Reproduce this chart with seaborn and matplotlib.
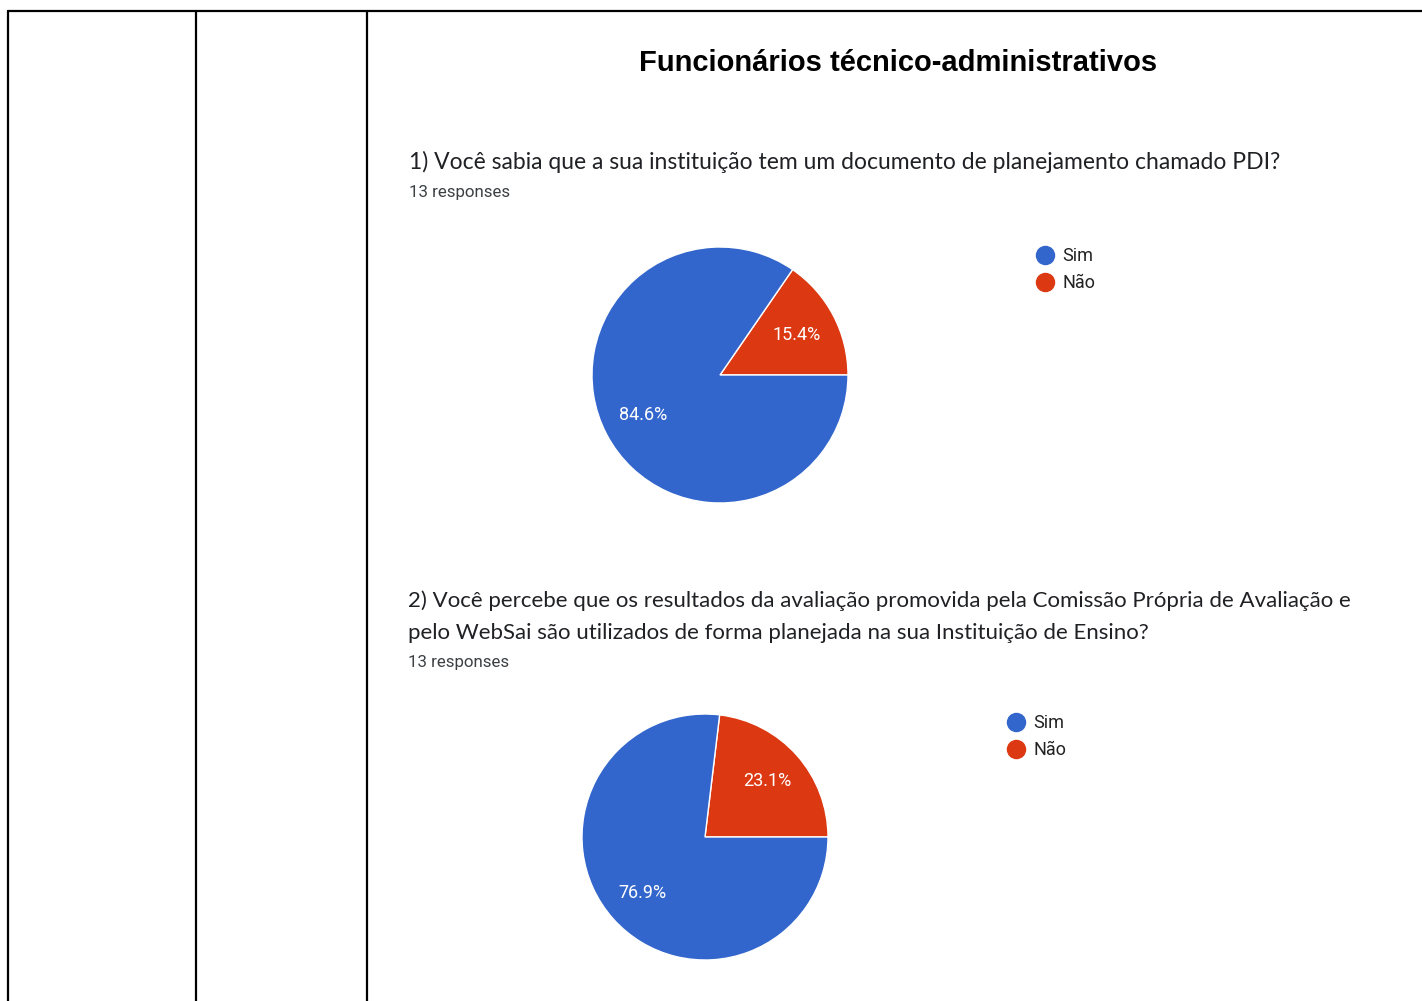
import matplotlib
matplotlib.use("Agg")
import matplotlib.pyplot as plt
from matplotlib.lines import Line2D
import seaborn as sns

# ---- data ----
title = "Funcionários técnico-administrativos"
categories = ["Sim", "Não"]
q1_text = "1) Você sabia que a sua instituição tem um documento de planejamento chamado PDI?"
q1_values = [84.6, 15.4]
q2_text = ("2) Você percebe que os resultados da avaliação promovida pela Comissão Própria de Avaliação e\n"
           "pelo WebSai são utilizados de forma planejada na sua Instituição de Ensino?")
q2_values = [76.9, 23.1]
responses = ["13 responses", "13 responses"]

colors = {"Sim": "#3366CC", "Não": "#DC3912"}

sns.set_theme(style="white")
plt.rcParams['font.family'] = ['Roboto', 'DejaVu Sans']

W, H = 1422, 1001
fig = plt.figure(figsize=(W / 100, H / 100), dpi=100)
fig.patch.set_facecolor("white")

def fx(x):
    return x / W

def fy(y):
    return 1 - y / H

# table lines
lw = 1.6
fig.add_artist(Line2D([fx(8), 1], [fy(11), fy(11)], color="black", lw=lw, transform=fig.transFigure))
for x in (8, 196, 367):
    fig.add_artist(Line2D([fx(x), fx(x)], [fy(11), 0], color="black", lw=lw, transform=fig.transFigure))

# title
fig.text(fx(898), fy(63), title, ha="center", va="center", fontsize=21, fontweight="bold",
         family=["Liberation Sans", "DejaVu Sans"], color="black")

# questions
fig.text(fx(409), fy(162), q1_text, ha="left", va="center", fontsize=16.5, color="#202124", family=["Lato", "DejaVu Sans"])
fig.text(fx(409), fy(192), responses[0], ha="left", va="center", fontsize=12.2, color="#3c4043")
fig.text(fx(408), fy(617), q2_text, ha="left", va="center", fontsize=16.0, color="#202124",
         family=["Lato", "DejaVu Sans"], linespacing=1.75)
fig.text(fx(408), fy(662), responses[1], ha="left", va="center", fontsize=12.2, color="#3c4043")


def draw_pie(cx, cy, r, values, legend_xy):
    ax = fig.add_axes([fx(cx - r), fy(cy + r), (2 * r) / W, (2 * r) / H])
    # draw minority slice first starting at 3 o'clock, counter-clockwise
    order = [1, 0]
    vals = [values[i] for i in order]
    cols = [colors[categories[i]] for i in order]
    wedges, texts, autotexts = ax.pie(
        vals, colors=cols, startangle=0, counterclock=True,
        autopct="%.1f%%", pctdistance=0.68,
        wedgeprops=dict(edgecolor="white", linewidth=1.0),
        textprops=dict(color="white", fontsize=13),
    )
    ax.set_xlim(-1, 1)
    ax.set_ylim(-1, 1)
    ax.set_aspect("equal")
    ax.axis("off")
    handles = [Line2D([0], [0], marker="o", linestyle="", markersize=13,
                      markerfacecolor=colors[c], markeredgecolor=colors[c]) for c in categories]
    fig.legend(handles, categories, loc="upper left",
               bbox_to_anchor=(fx(legend_xy[0]), fy(legend_xy[1])), frameon=False,
               handletextpad=0.45, labelspacing=0.5, fontsize=13, borderpad=0, borderaxespad=0,
               handlelength=1.0, labelcolor="#222222")

draw_pie(720, 375, 128, q1_values, (1036, 247))
draw_pie(705, 837, 123, q2_values, (1007, 714))

fig.savefig("out.png", dpi=100, facecolor="white")
